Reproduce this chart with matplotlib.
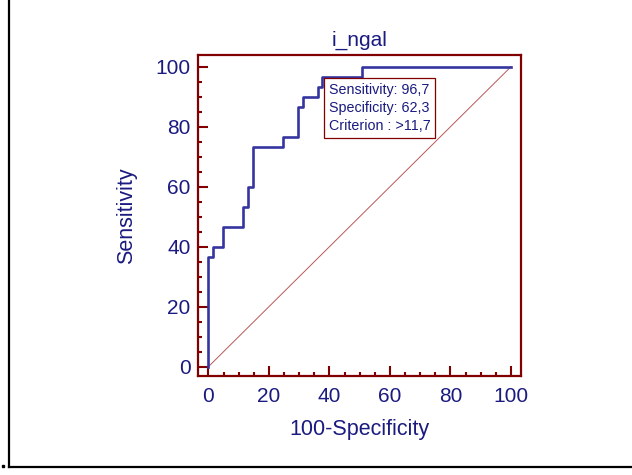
import matplotlib
matplotlib.use("Agg")
import matplotlib.pyplot as plt
from matplotlib.lines import Line2D
from matplotlib.ticker import MultipleLocator

plt.rcParams['font.family'] = ['Liberation Sans', 'DejaVu Sans']

# ROC data (100-Specificity, Sensitivity)
fpr = [0, 0, 1.64, 4.92, 11.48, 13.11, 14.75, 24.59, 29.51, 31.15, 36.07, 37.70, 50.82, 100]
tpr = [0, 36.7, 40.0, 46.7, 53.3, 60.0, 73.3, 76.7, 86.7, 90.0, 93.3, 96.7, 100, 100]
crit_index = 11
crit_sens = "96,7"
crit_spec = "62,3"
crit_value = ">11,7"
title = "i_ngal"
xlabel = "100-Specificity"
ylabel = "Sensitivity"
ticks = [0, 20, 40, 60, 80, 100]

navy = '#1a1a80'
curve_c = '#3535a0'
dred = '#800000'

fig = plt.figure(figsize=(6.32, 4.75), dpi=100)
ax = fig.add_axes([197.5 / 632, 1 - 376 / 475, (521 - 197.5) / 632, (376 - 55) / 475])

ax.plot([0, 100], [0, 100], color='#b85858', lw=0.7, zorder=1)
ax.plot(fpr, tpr, drawstyle='steps-post', color=curve_c, lw=1.9, zorder=2)

ax.set_xlim(-3.6, 103.3)
ax.set_ylim(-3.1, 103.9)
ax.set_xticks(ticks)
ax.set_yticks(ticks)
ax.xaxis.set_minor_locator(MultipleLocator(5))
ax.yaxis.set_minor_locator(MultipleLocator(5))

for s in ax.spines.values():
    s.set_color(dred)
    s.set_linewidth(1.6)

ax.tick_params(which='both', direction='in', color=dred, width=1.5,
               top=False, right=False)
ax.tick_params(which='major', length=7, labelsize=15, labelcolor=navy)
ax.tick_params(which='minor', length=3.2)
ax.tick_params(axis='y', which='major', pad=5)
ax.tick_params(axis='x', which='major', pad=8)

ax.set_title(title, fontsize=15, color=navy, pad=7)
ax.set_xlabel(xlabel, fontsize=15.5, color=navy, labelpad=9)
ax.set_ylabel(ylabel, fontsize=15.5, color=navy, labelpad=13)

txt = (f"Sensitivity: {crit_sens}\n"
       f"Specificity: {crit_spec}\n"
       f"Criterion : {crit_value}")
ax.annotate(txt, xy=(fpr[crit_index], tpr[crit_index]), xytext=(4.5, -4.5),
            textcoords='offset points', ha='left', va='top',
            fontsize=10.3, color=navy, linespacing=1.35, zorder=5,
            bbox=dict(boxstyle='square,pad=0.35', fc='white', ec=dred, lw=0.9))

# outer frame lines (left and bottom) and small dot
fig.add_artist(Line2D([9 / 632, 9 / 632], [1 - 467 / 475, 1.0],
                      transform=fig.transFigure, color='black', lw=1.6))
fig.add_artist(Line2D([9 / 632, 1.0], [1 - 467 / 475, 1 - 467 / 475],
                      transform=fig.transFigure, color='black', lw=1.6))
fig.add_artist(Line2D([2.5 / 632], [1 - 465.5 / 475], transform=fig.transFigure,
                      marker='s', markersize=1.6, color='black', lw=0))

fig.savefig('out.png', dpi=100, facecolor='white')
